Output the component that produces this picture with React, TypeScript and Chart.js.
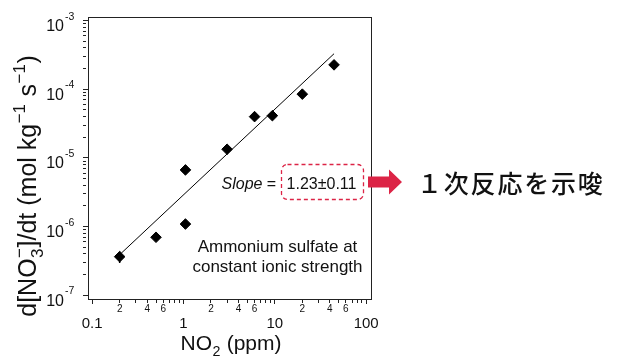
import React, { useEffect, useRef } from "react";
import { Chart, registerables } from "chart.js";

Chart.register(...registerables);

// ---- data ----
const no2Ppm = [0.2, 0.5, 1.05, 1.05, 3.0, 6.0, 9.4, 20, 44.5];
const rateMolKgS = [3.65e-7, 7.0e-7, 1.09e-6, 6.7e-6, 1.34e-5, 4.0e-5, 4.13e-5, 8.5e-5, 2.27e-4];
const rateErr = [0.7e-7, 0, 0, 0, 0, 0, 0, 0, 0];

const fitNo2 = [0.2, 44.5];
const fitRate = [3.9e-7, 3.3e-4];

// ---- axes ----
const xMin = 0.09;
const xMax = 113;
const yMin = 8.83e-8;
const yMax = 1.13e-3;

const xMajorTicks = [0.1, 1, 10, 100];
const xMajorLabels = ["0.1", "1", "10", "100"];
const xMinorTicks = [
  0.2, 0.3, 0.4, 0.5, 0.6, 0.7, 0.8, 0.9,
  2, 3, 4, 5, 6, 7, 8, 9,
  20, 30, 40, 50, 60, 70, 80, 90,
];
const xMinorLabelTicks = [0.2, 0.4, 0.6, 2, 4, 6, 20, 40, 60];
const xMinorLabels = ["2", "4", "6", "2", "4", "6", "2", "4", "6"];

const yMajorTicks = [1e-7, 1e-6, 1e-5, 1e-4, 1e-3];
const yMajorExponents = ["-7", "-6", "-5", "-4", "-3"];
const yMinorTicks = [
  2e-7, 3e-7, 4e-7, 5e-7, 6e-7, 7e-7, 8e-7, 9e-7,
  2e-6, 3e-6, 4e-6, 5e-6, 6e-6, 7e-6, 8e-6, 9e-6,
  2e-5, 3e-5, 4e-5, 5e-5, 6e-5, 7e-5, 8e-5, 9e-5,
  2e-4, 3e-4, 4e-4, 5e-4, 6e-4, 7e-4, 8e-4, 9e-4,
];

const slopeText = "1.23±0.11";
const noteLines = ["Ammonium sulfate at", "constant ionic strength"];
const jpText = "１次反応を示唆";

const FONT = '"Liberation Sans", Arial, Helvetica, sans-serif';
const RED = "#dc2446";
const INK = "#111";

type Seg = { t?: string; sub?: string; sup?: string };

const yTitle: Seg[] = [
  { t: "d[NO" },
  { sub: "3", sup: "−" },
  { t: "]/dt (mol kg" },
  { sup: "−1" },
  { t: " s" },
  { sup: "−1" },
  { t: ")" },
];
const xTitle: Seg[] = [{ t: "NO" }, { sub: "2" }, { t: " (ppm)" }];

function richWidth(ctx: CanvasRenderingContext2D, segs: Seg[], size: number) {
  let w = 0;
  for (const s of segs) {
    if (s.t) {
      ctx.font = `${size}px ${FONT}`;
      w += ctx.measureText(s.t).width;
    } else {
      ctx.font = `${size * 0.68}px ${FONT}`;
      const a = s.sub ? ctx.measureText(s.sub).width : 0;
      const b = s.sup ? ctx.measureText(s.sup).width : 0;
      w += Math.max(a, b) + size * 0.04;
    }
  }
  return w;
}

function drawRich(
  ctx: CanvasRenderingContext2D,
  segs: Seg[],
  cx: number,
  baseline: number,
  size: number
) {
  const total = richWidth(ctx, segs, size);
  let x = cx - total / 2;
  ctx.textAlign = "left";
  ctx.textBaseline = "alphabetic";
  for (const s of segs) {
    if (s.t) {
      ctx.font = `${size}px ${FONT}`;
      ctx.fillText(s.t, x, baseline);
      x += ctx.measureText(s.t).width;
    } else {
      ctx.font = `${size * 0.68}px ${FONT}`;
      let w = 0;
      if (s.sub) {
        ctx.fillText(s.sub, x + size * 0.02, baseline + size * 0.28);
        w = Math.max(w, ctx.measureText(s.sub).width);
      }
      if (s.sup) {
        ctx.fillText(s.sup, x + size * 0.02, baseline - size * 0.42);
        w = Math.max(w, ctx.measureText(s.sup).width);
      }
      x += w + size * 0.04;
    }
  }
}

const decorPlugin = {
  id: "decor",
  beforeDraw(chart: any) {
    const { ctx, width, height } = chart;
    ctx.save();
    ctx.fillStyle = "#fff";
    ctx.fillRect(0, 0, width, height);
    ctx.restore();
  },
  beforeDatasetsDraw(chart: any) {
    const { ctx, scales } = chart;
    const xs = scales.x;
    const ys = scales.y;
    ctx.save();
    ctx.strokeStyle = "#000";
    ctx.lineWidth = 1.5;
    for (let i = 0; i < no2Ppm.length; i++) {
      if (!rateErr[i]) continue;
      const px = xs.getPixelForValue(no2Ppm[i]);
      const y1 = ys.getPixelForValue(rateMolKgS[i] - rateErr[i]);
      const y2 = ys.getPixelForValue(rateMolKgS[i] + rateErr[i]);
      ctx.beginPath();
      ctx.moveTo(px, y1);
      ctx.lineTo(px, y2);
      ctx.stroke();
    }
    ctx.restore();
  },
  afterDraw(chart: any) {
    const { ctx, chartArea: a, scales } = chart;
    const xs = scales.x;
    const ys = scales.y;
    ctx.save();

    // frame (top/right sides)
    ctx.strokeStyle = "#222";
    ctx.lineWidth = 1;
    ctx.strokeRect(Math.round(a.left) + 0.5, Math.round(a.top) + 0.5, Math.round(a.right - a.left), Math.round(a.bottom - a.top));

    ctx.fillStyle = INK;

    // x tick labels
    ctx.textAlign = "center";
    ctx.textBaseline = "alphabetic";
    ctx.font = `15px ${FONT}`;
    xMajorTicks.forEach((v, i) => {
      ctx.fillText(xMajorLabels[i], xs.getPixelForValue(v), a.bottom + 29);
    });
    ctx.font = `10px ${FONT}`;
    xMinorLabelTicks.forEach((v, i) => {
      ctx.fillText(xMinorLabels[i], xs.getPixelForValue(v), a.bottom + 13);
    });

    // y tick labels: 10^n
    yMajorTicks.forEach((v, i) => {
      const py = ys.getPixelForValue(v);
      ctx.font = `16px ${FONT}`;
      ctx.textAlign = "right";
      ctx.fillText("10", a.left - 24, py + 10.5);
      ctx.font = `10.5px ${FONT}`;
      ctx.textAlign = "left";
      ctx.fillText(yMajorExponents[i], a.left - 23, py - 1);
    });

    // axis titles
    ctx.save();
    ctx.translate(27, 186);
    ctx.rotate(-Math.PI / 2);
    drawRich(ctx, yTitle, 0, 8.8, 25);
    ctx.restore();
    drawRich(ctx, xTitle, 231, 350, 21);

    // slope annotation
    ctx.textAlign = "left";
    ctx.textBaseline = "alphabetic";
    ctx.font = `italic 16px ${FONT}`;
    ctx.fillText("Slope", 221.5, 188.5);
    const sw = ctx.measureText("Slope").width;
    ctx.font = `16px ${FONT}`;
    ctx.fillText(" =", 221.5 + sw, 188.5);
    ctx.textAlign = "center";
    ctx.fillText(slopeText, 321.5, 188.5);

    // dashed rounded box
    ctx.strokeStyle = RED;
    ctx.lineWidth = 1.3;
    ctx.setLineDash([4, 3]);
    ctx.beginPath();
    ctx.roundRect(281.5, 164.5, 82, 35, 6);
    ctx.stroke();
    ctx.setLineDash([]);

    // note
    ctx.font = `17px ${FONT}`;
    ctx.textAlign = "center";
    ctx.fillText(noteLines[0], 277.5, 252);
    ctx.fillText(noteLines[1], 277.5, 272);

    // red arrow
    ctx.fillStyle = RED;
    ctx.beginPath();
    ctx.moveTo(368, 176.5);
    ctx.lineTo(389, 176.5);
    ctx.lineTo(389, 169.5);
    ctx.lineTo(402, 182);
    ctx.lineTo(389, 194.5);
    ctx.lineTo(389, 187.5);
    ctx.lineTo(368, 187.5);
    ctx.closePath();
    ctx.fill();

    // Japanese note
    ctx.fillStyle = INK;
    ctx.font = `500 25px "Noto Sans CJK JP", sans-serif`;
    (ctx as any).letterSpacing = "1.8px";
    ctx.textAlign = "left";
    ctx.textBaseline = "middle";
    ctx.fillText(jpText, 417, 183);
    (ctx as any).letterSpacing = "0px";

    ctx.restore();
  },
};

const minorDash = [3, 60];

export default function App() {
  const ref = useRef<HTMLCanvasElement | null>(null);

  useEffect(() => {
    document.body.style.margin = "0";
    const canvas = ref.current;
    if (!canvas) return;

    const xTickValues = [...xMajorTicks, ...xMinorTicks].sort((p, q) => p - q);
    const yTickValues = [...yMajorTicks, ...yMinorTicks].sort((p, q) => p - q);

    const chart = new Chart(canvas, {
      type: "scatter",
      data: {
        datasets: [
          {
            label: "rate",
            data: no2Ppm.map((v, i) => ({ x: v, y: rateMolKgS[i] })),
            pointStyle: "rectRot",
            pointRadius: 5.3,
            backgroundColor: "#000",
            borderColor: "#000",
            borderWidth: 1,
            order: 0,
          },
          {
            label: "fit",
            data: fitNo2.map((v, i) => ({ x: v, y: fitRate[i] })),
            showLine: true,
            pointRadius: 0,
            borderColor: "#000",
            borderWidth: 1,
            order: 1,
          },
        ],
      },
      options: {
        responsive: false,
        animation: false,
        events: [],
        layout: { padding: { left: 83, right: 246, top: 17, bottom: 52 } },
        plugins: { legend: { display: false }, tooltip: { enabled: false } },
        scales: {
          x: {
            type: "logarithmic",
            position: "bottom",
            min: xMin,
            max: xMax,
            afterBuildTicks: (s: any) => {
              s.ticks = xTickValues.map((v) => ({ value: v, major: xMajorTicks.includes(v) }));
            },
            ticks: { display: false },
            grid: {
              drawOnChartArea: false,
              drawTicks: true,
              tickLength: 5,
              tickColor: "#222",
              tickWidth: 1,
              tickBorderDash: (c: any) => (xMajorTicks.includes(c.tick?.value) ? [] : minorDash),
            },
            border: { display: true, color: "#222", width: 1 },
          },
          y: {
            type: "logarithmic",
            position: "left",
            min: yMin,
            max: yMax,
            afterBuildTicks: (s: any) => {
              s.ticks = yTickValues.map((v) => ({ value: v, major: yMajorTicks.includes(v) }));
            },
            ticks: { display: false },
            grid: {
              drawOnChartArea: false,
              drawTicks: true,
              tickLength: 5,
              tickColor: "#222",
              tickWidth: 1,
              tickBorderDash: (c: any) => (yMajorTicks.includes(c.tick?.value) ? [] : minorDash),
            },
            border: { display: true, color: "#222", width: 1 },
          },
        },
      },
      plugins: [decorPlugin],
    } as any);

    return () => chart.destroy();
  }, []);

  return (
    <div style={{ position: "absolute", left: 0, top: 0, width: 617, height: 356 }}>
      <canvas ref={ref} width={617} height={356} style={{ display: "block" }} />
    </div>
  );
}
